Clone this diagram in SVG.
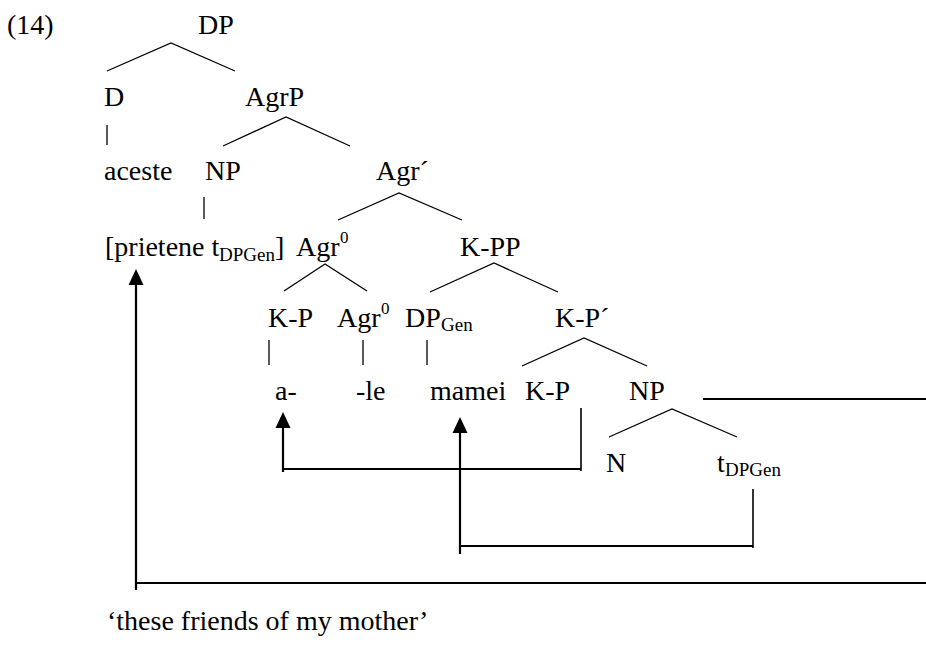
<svg xmlns="http://www.w3.org/2000/svg" width="926" height="646" viewBox="0 0 926 646">
<defs>
<style>
text{font-family:"Liberation Serif","Times New Roman",serif;font-size:28px;fill:#000}
.sub{font-size:19px}
.sup{font-size:17px}
.t{stroke:#000;stroke-width:1.3;fill:none}
.b{stroke:#000;stroke-width:2.2;fill:none}
.bt{stroke:#000;stroke-width:1.6;fill:none}
.ah{fill:#000}
</style>
</defs>
<rect width="926" height="646" fill="#fff"/>
<g id="label-14"><text x="7" y="34">(14)</text></g>
<g id="DP"><text x="198" y="34">DP</text></g>
<g id="D"><text x="104" y="106">D</text></g>
<g id="AgrP"><text x="245" y="106">AgrP</text></g>
<g id="aceste"><text x="104" y="180">aceste</text></g>
<g id="NP1"><text x="205" y="180">NP</text></g>
<g id="AgrBar"><text x="376" y="180">Agr´</text></g>
<g id="prietene"><text x="105" y="256">[prietene t</text><text class="sub" x="219" y="261">DPGen</text><text x="275" y="256">]</text></g>
<g id="Agr0-1"><text x="296" y="256">Agr</text><text class="sup" x="340" y="243">0</text></g>
<g id="KPP"><text x="460" y="256">K-PP</text></g>
<g id="KP1"><text x="268" y="327">K-P</text></g>
<g id="Agr0-2"><text x="337" y="327">Agr</text><text class="sup" x="381" y="314">0</text></g>
<g id="DPGen"><text x="405" y="327">DP</text><text class="sub" x="441" y="331">Gen</text></g>
<g id="KPBar"><text x="555" y="327">K-P´</text></g>
<g id="a"><text x="275" y="400">a-</text></g>
<g id="le"><text x="356" y="400">-le</text></g>
<g id="mamei"><text x="430" y="400">mamei</text></g>
<g id="KP2"><text x="525" y="400">K-P</text></g>
<g id="NP2"><text x="629" y="400">NP</text></g>
<g id="N"><text x="606" y="472">N</text></g>
<g id="trace"><text x="717" y="472">t</text><text class="sub" x="725" y="476">DPGen</text></g>
<g id="gloss"><text x="107" y="630">‘these friends of my mother’</text></g>
<g id="connectors">
<path class="t" d="M107,71 L171,43 L235,71"/>
<path class="t" d="M107,125 V145"/>
<path class="t" d="M223,146 L286,117 L350,146"/>
<path class="t" d="M204,197 V219"/>
<path class="t" d="M338,220 L399,193 L462,220"/>
<path class="t" d="M284,291 L325,264 L367,291"/>
<path class="t" d="M430,292 L494,263 L558,292"/>
<path class="t" d="M269,340 V365"/>
<path class="t" d="M363,340 V365"/>
<path class="t" d="M427,340 V365"/>
<path class="t" d="M522,366 L584,338 L647,366"/>
<path class="t" d="M609,437 L672,409 L737,437"/>
<path class="b" d="M703,399 H926"/>
<path class="b" d="M136,590 V284"/>
<path class="ah" d="M136,269 L143.5,285 L128.5,285 Z"/>
<path class="b" d="M136,583 H926"/>
<path class="b" d="M283,472 V426"/>
<path class="ah" d="M283,412 L290.5,428 L275.5,428 Z"/>
<path class="b" d="M283,469 H581"/>
<path class="bt" d="M581,408 V471"/>
<path class="b" d="M460,554 V431"/>
<path class="ah" d="M460,417 L467.5,433 L452.5,433 Z"/>
<path class="b" d="M460,546 H753"/>
<path class="bt" d="M753,489 V548"/>
</g>
</svg>
